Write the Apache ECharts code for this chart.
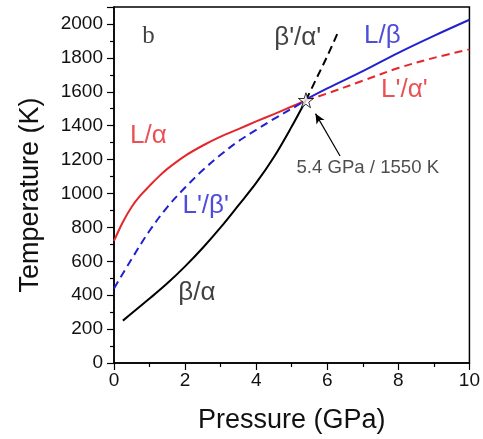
<!DOCTYPE html>
<html lang="en">
<head>
    <meta charset="UTF-8">
    <title>Phase diagram</title>
    <style>
        html, body { margin: 0; padding: 0; background: #fff; }
    </style>
</head>
<body>
<div id="myChart" style="width: 483px;height: 439px;"></div>
<script src="https://cdn.jsdelivr.net/npm/echarts@6/dist/echarts.min.js"></script>
<script>
    // [pressure GPa, temperature K]
    let lAlpha = [[0, 720], [0.25, 832], [0.5, 922], [0.75, 990], [1, 1045], [1.25, 1098], [1.5, 1145],
        [2, 1222], [2.5, 1283], [3, 1335], [3.5, 1380], [4, 1425], [4.5, 1468], [5, 1513], [5.4, 1550]];
    let lBetaPrime = [[0, 440], [0.5, 615], [1, 780], [1.5, 920], [2, 1035], [2.5, 1138], [3, 1228],
        [3.5, 1308], [4, 1375], [4.5, 1440], [5, 1500], [5.4, 1550]];
    let betaAlpha = [[0.25, 250], [1, 380], [1.5, 470], [2, 570], [2.5, 680], [3, 800], [3.5, 930],
        [4, 1062], [4.5, 1215], [5, 1395], [5.4, 1550]];
    let betaAlphaPrime = [[5.4, 1550], [5.7, 1680], [6, 1810], [6.3, 1950]];
    let lBeta = [[5.4, 1555], [6, 1620], [7, 1722], [8, 1830], [9, 1930], [10, 2025]];
    let lAlphaPrime = [[5.4, 1550], [6, 1590], [7, 1665], [8, 1740], [9, 1800], [10, 1850]];
    let triplePoint = [[5.4, 1550]];

    // text annotations, placed in data coordinates
    let redLabels = [[0.97, 1343, 'L/α'], [8.17, 1610, "L'/α'"]];
    let blueLabels = [[2.58, 930, "L'/β'"], [7.55, 1930, 'L/β']];
    let blackLabels = [[2.33, 413, 'β/α'], [5.17, 1919, "β'/α'"]];
    let noteLabel = [[7.14, 1151, '5.4 GPa / 1550 K']];
    let panelLabel = [[0.97, 1924, 'b']];
    let arrowFrom = [6.36, 1221];
    let arrowTo = [5.67, 1471];

    const RED = '#e5262b';
    const BLUE = '#2121cf';
    const FONT = 'Liberation Sans';

    var myChart = echarts.init(document.querySelector('#myChart'));

    function curve(data, color, dashed) {
        return {
            type: 'line',
            data: data,
            smooth: 0.35,
            showSymbol: false,
            silent: true,
            lineStyle: { color: color, width: 2, type: dashed ? [8, 5] : 'solid' }
        };
    }

    function textSeries(list, color, size, family) {
        return {
            type: 'scatter',
            symbolSize: 0,
            silent: true,
            data: list.map(d => ({ value: [d[0], d[1]], name: d[2] })),
            label: {
                show: true,
                position: 'inside',
                formatter: '{b}',
                color: color,
                fontSize: size,
                fontFamily: family || FONT
            },
            z: 5
        };
    }

    option = {
        animation: false,
        grid: {
            left: 114, right: 9, top: 7, bottom: 71,
            show: true, borderColor: '#000', borderWidth: 1.5
        },
        xAxis: {
            type: 'value',
            min: 0, max: 10, interval: 2,
            name: 'Pressure (GPa)',
            nameLocation: 'middle',
            nameGap: 44,
            nameTextStyle: { fontSize: 27, fontFamily: FONT, color: '#111' },
            axisLine: { lineStyle: { color: '#000', width: 1.5 } },
            axisTick: { length: 7, lineStyle: { color: '#000', width: 1.2 } },
            minorTick: { show: true, splitNumber: 2, length: 4, lineStyle: { color: '#000', width: 1.2 } },
            splitLine: { show: false },
            axisLabel: { fontSize: 19, fontFamily: FONT, color: '#111', margin: 8 }
        },
        yAxis: {
            type: 'value',
            min: 0, max: 2100, interval: 200,
            name: 'Temperature (K)',
            nameLocation: 'middle',
            nameGap: 70,
            nameTextStyle: { fontSize: 27, fontFamily: FONT, color: '#111', padding: [0, 20, 0, 0] },
            axisLine: { lineStyle: { color: '#000', width: 1.5 } },
            axisTick: { length: 7, lineStyle: { color: '#000', width: 1.2 } },
            minorTick: { show: true, splitNumber: 2, length: 4, lineStyle: { color: '#000', width: 1.2 } },
            splitLine: { show: false },
            axisLabel: {
                fontSize: 19, fontFamily: FONT, color: '#111', margin: 11, showMaxLabel: false,
                formatter: v => String(v)
            }
        },
        series: [
            curve(lAlpha, RED, false),
            curve(lBetaPrime, BLUE, true),
            curve(betaAlpha, '#000', false),
            curve(betaAlphaPrime, '#000', true),
            curve(lBeta, BLUE, false),
            curve(lAlphaPrime, RED, true),
            {
                type: 'scatter',
                data: triplePoint,
                symbol: 'path://M50,0 L61,35 L98,35 L68,57 L79,91 L50,70 L21,91 L32,57 L2,35 L39,35 Z',
                symbolSize: 15,
                itemStyle: { color: '#fff', borderColor: '#000', borderWidth: 1 },
                silent: true,
                z: 10,
                markLine: {
                    silent: true,
                    symbol: ['none', 'arrow'],
                    symbolSize: [7, 10],
                    label: { show: false },
                    lineStyle: { color: '#000', width: 1.2, type: 'solid' },
                    data: [[{ coord: arrowFrom }, { coord: arrowTo }]]
                }
            },
            textSeries(redLabels, RED, 26),
            textSeries(blueLabels, BLUE, 26),
            textSeries(blackLabels, '#111', 26),
            textSeries(noteLabel, '#222', 18.6),
            textSeries(panelLabel, '#111', 25, '"Liberation Serif", "DejaVu Serif", serif')
        ]
    };
    myChart.setOption(option);
</script>
</body>
</html>
